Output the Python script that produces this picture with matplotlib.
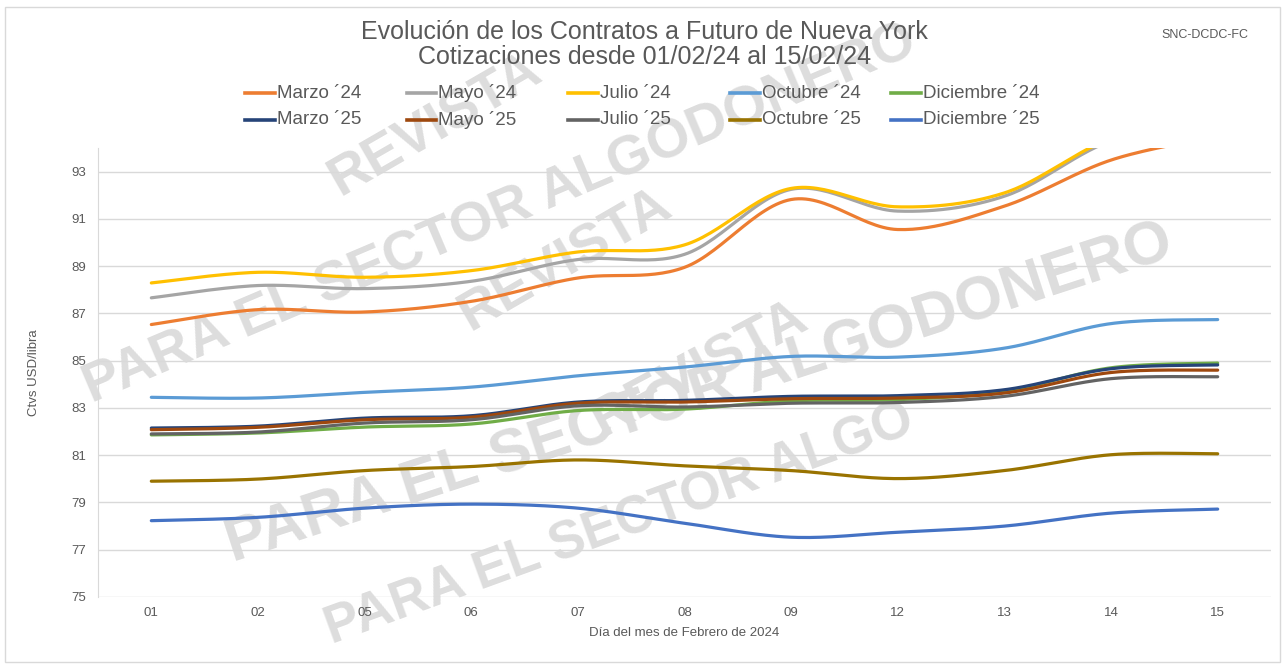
import numpy as np
import matplotlib.pyplot as plt
from matplotlib.lines import Line2D
from matplotlib.patches import Rectangle

plt.rcParams['font.family'] = ['Liberation Sans', 'DejaVu Sans']

dias = ['01', '02', '05', '06', '07', '08', '09', '12', '13', '14', '15']

series = ['Marzo ´24', 'Mayo ´24', 'Julio ´24', 'Octubre ´24', 'Diciembre ´24',
          'Marzo ´25', 'Mayo ´25', 'Julio ´25', 'Octubre ´25', 'Diciembre ´25']

marzo_24 = [86.53, 87.16, 87.06, 87.51, 88.50, 88.95, 91.82, 90.55, 91.54, 93.49, 94.50]
mayo_24 = [87.66, 88.18, 88.05, 88.36, 89.28, 89.50, 92.25, 91.33, 91.96, 94.30, 95.10]
julio_24 = [88.29, 88.74, 88.53, 88.81, 89.60, 89.90, 92.29, 91.51, 92.10, 94.40, 95.30]
octubre_24 = [83.45, 83.42, 83.66, 83.88, 84.36, 84.73, 85.18, 85.15, 85.53, 86.57, 86.74]
diciembre_24 = [81.86, 81.94, 82.19, 82.32, 82.89, 82.95, 83.30, 83.35, 83.70, 84.70, 84.90]
marzo_25 = [82.15, 82.23, 82.57, 82.67, 83.25, 83.32, 83.49, 83.52, 83.77, 84.66, 84.82]
mayo_25 = [82.08, 82.18, 82.50, 82.61, 83.20, 83.25, 83.39, 83.42, 83.63, 84.50, 84.60]
julio_25 = [81.90, 81.98, 82.36, 82.50, 83.09, 83.04, 83.20, 83.23, 83.49, 84.24, 84.32]
octubre_25 = [79.90, 79.99, 80.35, 80.52, 80.80, 80.55, 80.35, 80.01, 80.35, 81.02, 81.06]
diciembre_25 = [78.23, 78.37, 78.76, 78.93, 78.76, 78.12, 77.53, 77.74, 78.00, 78.55, 78.72]

valores = [marzo_24, mayo_24, julio_24, octubre_24, diciembre_24,
           marzo_25, mayo_25, julio_25, octubre_25, diciembre_25]

colores = ['#ED7D31', '#A5A5A5', '#FFC000', '#5B9BD5', '#70AD47',
           '#264478', '#9E480E', '#636363', '#997300', '#4472C4']

GRIS = '#595959'
W, H = 1286, 664


def suavizar(y, n=30):
    # curva tipo "linea suavizada" de Excel (bezier catmull-rom)
    y = np.asarray(y, dtype=float)
    x = np.arange(len(y), dtype=float)
    p = np.column_stack([x, y])
    pts = []
    for i in range(len(p) - 1):
        p0 = p[i - 1] if i > 0 else p[i]
        p3 = p[i + 2] if i + 2 < len(p) else p[i + 1]
        p1, p2 = p[i], p[i + 1]
        c1 = p1 + (p2 - p0) / 6
        c2 = p2 - (p3 - p1) / 6
        t = np.linspace(0, 1, n)[:, None]
        seg = ((1 - t) ** 3 * p1 + 3 * (1 - t) ** 2 * t * c1
               + 3 * (1 - t) * t ** 2 * c2 + t ** 3 * p2)
        pts.append(seg if i == 0 else seg[1:])
    pts = np.vstack(pts)
    return pts[:, 0], pts[:, 1]


fig = plt.figure(figsize=(W / 100, H / 100), dpi=100)
fig.patches.append(Rectangle((5 / W, 2 / H), 1275 / W, 655 / H,
                             transform=fig.transFigure, fill=False,
                             edgecolor='#d9d9d9', lw=1))

ax = fig.add_axes([98 / W, 1 - 597 / H, (1271 - 98) / W, (597 - 148) / H])

# marca de agua
marca = dict(color='#dddddd', fontweight='heavy', ha='center', va='center',
             zorder=1.2, transform=fig.transFigure, clip_on=False)
ax.text(500 / W, 1 - 215 / H, 'PARA EL SECTOR ALGODONERO', fontsize=40, rotation=23, **marca)
ax.text(700 / W, 1 - 395 / H, 'PARA EL SECTOR ALGODONERO', fontsize=44, rotation=18, **marca)
ax.text(620 / W, 1 - 525 / H, 'PARA EL SECTOR ALGO', fontsize=38, rotation=20, **marca)
ax.text(435 / W, 1 - 125 / H, 'REVISTA', fontsize=40, rotation=30, **marca)
ax.text(565 / W, 1 - 260 / H, 'REVISTA', fontsize=40, rotation=30, **marca)
ax.text(700 / W, 1 - 370 / H, 'REVISTA', fontsize=40, rotation=28, **marca)

x = np.arange(len(dias))
for nombre, vals, c in zip(series, valores, colores):
    xs, ys = suavizar(vals)
    ax.plot(xs, ys, color=c, lw=2.3, label=nombre, zorder=3,
            solid_capstyle='round')

ax.set_xlim(-0.5, len(dias) - 0.5)
ax.set_ylim(75, 94)
ax.set_yticks(np.arange(75, 94, 2))
ax.set_xticks(x)
ax.set_xticklabels(dias)
ax.tick_params(length=0, labelsize=9.5, labelcolor=GRIS)
ax.tick_params(axis='y', pad=8.5)
ax.tick_params(axis='x', pad=7)
ax.grid(axis='y', color='#d9d9d9', lw=1)
ax.set_axisbelow(True)
ax.xaxis.set_zorder(2)
ax.yaxis.set_zorder(2)
for s in ['top', 'right', 'bottom']:
    ax.spines[s].set_visible(False)
ax.spines['left'].set_color('#d9d9d9')

ax.set_xlabel('Día del mes de Febrero de 2024', fontsize=9.5, color=GRIS, labelpad=6)
ax.set_ylabel('Ctvs USD/libra', fontsize=9.5, color=GRIS)
ax.yaxis.set_label_coords((40 - 98) / (1271 - 98), 0.5)

fig.text(644 / W, 1 - 32 / H, 'Evolución de los Contratos a Futuro de Nueva York',
         ha='center', va='center', fontsize=18, color=GRIS)
fig.text(645 / W, 1 - 57 / H, 'Cotizaciones desde 01/02/24 al 15/02/24',
         ha='center', va='center', fontsize=18, color=GRIS)
fig.text(1205 / W, 1 - 35 / H, 'SNC-DCDC-FC', ha='center', va='center',
         fontsize=9, color=GRIS)

# leyenda en dos filas
for i, (nombre, c) in enumerate(zip(series, colores)):
    fila, col = divmod(i, 5)
    x0 = 245 + col * 161.5
    yy = 1 - (93 + fila * 27) / H
    fig.lines.append(Line2D([x0 / W, (x0 + 30) / W], [yy, yy],
                            transform=fig.transFigure, color=c, lw=2.6))
    fig.text((x0 + 32) / W, yy, nombre, ha='left', va='center',
             fontsize=13.5, color=GRIS)

fig.savefig('out.png', dpi=100)
